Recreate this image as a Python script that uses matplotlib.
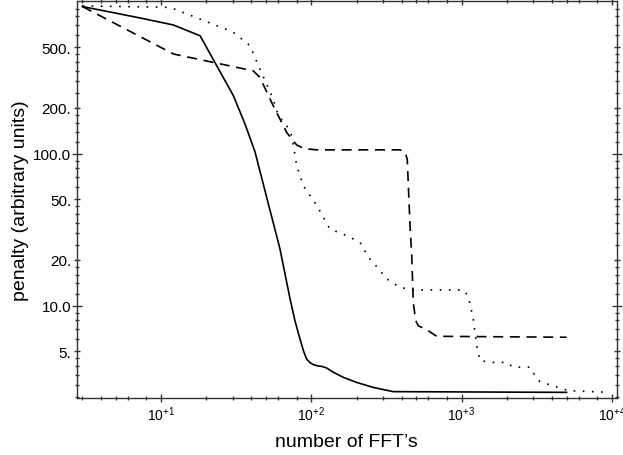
import matplotlib
matplotlib.use("Agg")
import matplotlib.pyplot as plt
from matplotlib.ticker import FixedLocator, FixedFormatter, NullFormatter

plt.rcParams['font.family'] = ['Liberation Sans', 'DejaVu Sans']
plt.rcParams['mathtext.default'] = 'regular'

# solid curve
x_solid = [3, 7.25, 12.1, 18.2, 30.3, 36.2, 42.2, 50.5, 61.9, 72.2, 78, 84.1,
           89, 93.1, 98, 103, 110, 118, 126, 140, 163, 200, 258, 351, 5000]
y_solid = [930, 782, 703, 597, 241, 157, 103, 51.6, 23.6, 11.1, 7.9, 6.04,
           5.0, 4.46, 4.22, 4.1, 4.02, 3.98, 3.9, 3.65, 3.38, 3.13, 2.9, 2.72, 2.69]

# dashed curve
x_dash = [3, 12.1, 41.1, 45.5, 55.8, 68.6, 80, 90, 109, 389, 420, 435, 454, 466,
          477, 495, 515, 586, 683, 5000]
y_dash = [930, 453, 351, 318, 207, 138, 114, 108, 106, 106, 103, 92, 33.6, 21.3,
          10.5, 8.0, 7.38, 6.95, 6.29, 6.2]

# dotted curve
x_dot = [3, 11.5, 18.2, 30.1, 39.1, 45.5, 55.8, 60.3, 68.6, 74.2, 80, 88.5,
         109, 133, 172, 211, 240, 258, 318, 389, 477, 1026, 1108, 1197, 1261,
         1325, 1625, 1995, 2208, 2851, 3078, 3325, 4753, 5130, 9700]
y_dot = [940, 918, 769, 632, 514, 360, 229, 178, 153, 131, 83.4, 61.5,
         45.5, 32, 28.9, 26.1, 20.8, 19.3, 15, 13.2, 12.7, 12.7, 11.6, 8.16, 5.45,
         4.35, 4.24, 4.24, 3.94, 3.94, 3.47, 3.16, 2.83, 2.76, 2.69]

x_major = [10, 100, 1000, 10000]
x_labels = ['10$^{+1}$', '10$^{+2}$', '10$^{+3}$', '10$^{+4}$']
x_mult = [2, 3, 4, 5, 6, 8]

y_major = [5, 10, 20, 50, 100, 200, 500]
y_labels = ['5.', '10.0', '20.', '50.', '100.0', '200.', '500.']
y_mult = [1.2, 1.4, 1.6, 1.8, 2.5, 3, 3.5, 4, 4.5, 6, 7, 8, 9]

fig = plt.figure(figsize=(6.23, 4.56), dpi=100)
ax = fig.add_subplot(111)
fig.subplots_adjust(left=77/623, right=616.5/623, bottom=1-399/456, top=1-1.5/456)

ax.plot(x_solid, y_solid, color='black', lw=1.2, ls='-')
ax.plot(x_dash, y_dash, color='black', lw=1.2, ls=(0, (6, 4)))
ax.plot(x_dot, y_dot, color='black', lw=1.2, ls=(0, (1, 4.5)))

ax.set_xscale('log')
ax.set_yscale('log')
ax.set_xlim(2.76, 10740)
ax.set_ylim(2.47, 1019)

ax.xaxis.set_major_locator(FixedLocator(x_major))
ax.xaxis.set_major_formatter(FixedFormatter(x_labels))
ax.xaxis.set_minor_locator(FixedLocator([m * d for d in [1, 10, 100, 1000] for m in x_mult]))
ax.xaxis.set_minor_formatter(NullFormatter())

ax.yaxis.set_major_locator(FixedLocator(y_major))
ax.yaxis.set_major_formatter(FixedFormatter(y_labels))
ax.yaxis.set_minor_locator(FixedLocator([m * d for d in [1, 10, 100] for m in y_mult]))
ax.yaxis.set_minor_formatter(NullFormatter())

for sp in ax.spines.values():
    sp.set_color('#333333')
    sp.set_linewidth(1.0)

ax.tick_params(axis='both', which='both', direction='inout', top=True, right=True,
               color='#333333', width=1.0, labelcolor='black')
ax.tick_params(axis='x', which='major', length=5.8, pad=2, labelsize=10)
ax.tick_params(axis='x', which='minor', length=2.9)
ax.tick_params(axis='y', which='major', length=4.3, pad=2, labelsize=11)
ax.tick_params(axis='y', which='minor', length=2.2)

# decade ticks on the y axis are longer
for t, v in zip(ax.yaxis.get_major_ticks(), y_major):
    if v in (10, 100):
        t.tick1line.set_markersize(6.5)
        t.tick2line.set_markersize(6.5)

ax.set_xlabel('number of FFT\u2019s', fontsize=14, labelpad=7)
ax.set_ylabel('penalty (arbitrary units)', fontsize=14, labelpad=3)

fig.savefig('out.png', dpi=100)
